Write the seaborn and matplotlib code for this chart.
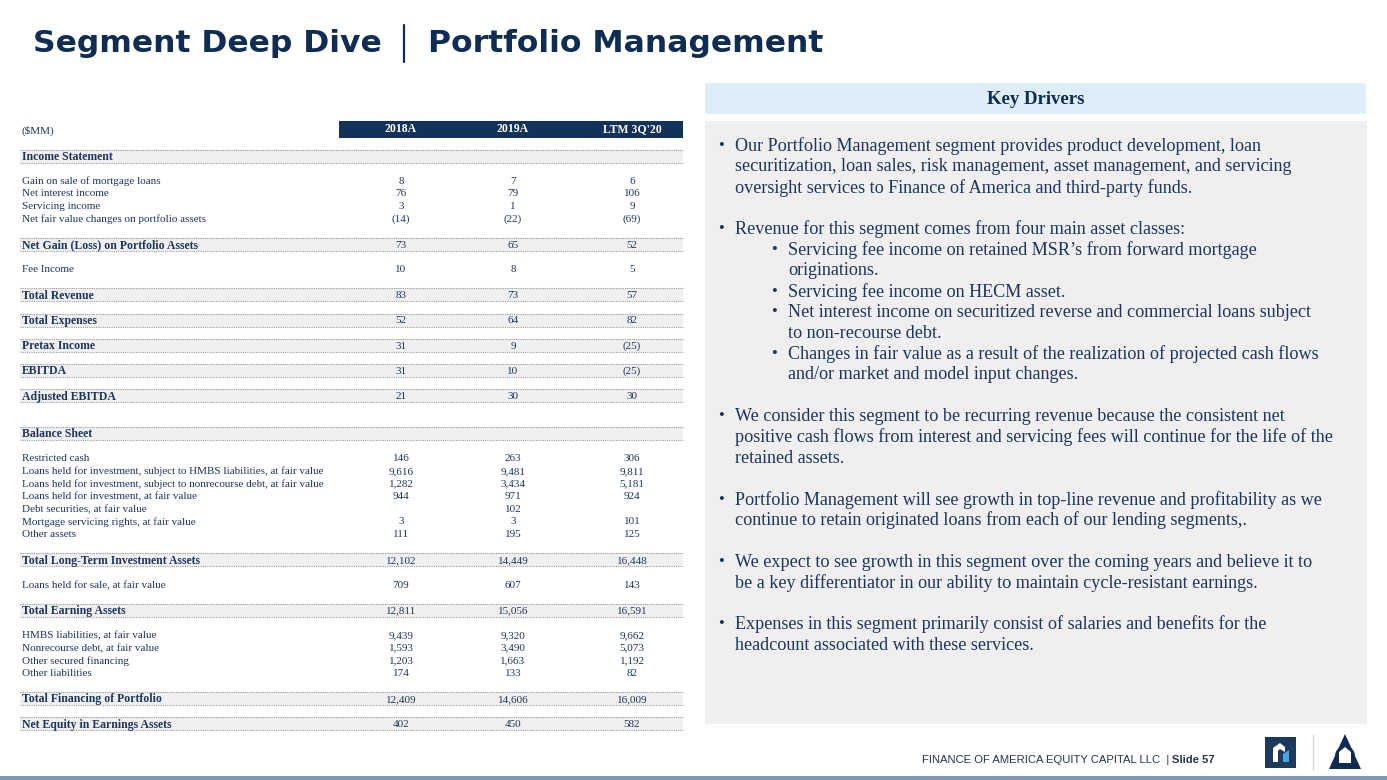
import matplotlib
matplotlib.use("Agg")
import matplotlib.pyplot as plt
from matplotlib.patches import Rectangle, Polygon, Circle
import seaborn as sns

sns.set_theme(style="white")
plt.rcParams["font.family"] = ["Liberation Serif", "DejaVu Serif"]

NAVY = "#0f2d52"
TEXT = "#1c3560"

# ---- table data ($MM) ----
row_labels = [
    "Income Statement",
    "Gain on sale of mortgage loans",
    "Net interest income",
    "Servicing income",
    "Net fair value changes on portfolio assets",
    "Net Gain (Loss) on Portfolio Assets",
    "Fee Income",
    "Total Revenue",
    "Total Expenses",
    "Pretax Income",
    "EBITDA",
    "Adjusted EBITDA",
    "Balance Sheet",
    "Restricted cash",
    "Loans held for investment, subject to HMBS liabilities, at fair value",
    "Loans held for investment, subject to nonrecourse debt, at fair value",
    "Loans held for investment, at fair value",
    "Debt securities, at fair value",
    "Mortgage servicing rights, at fair value",
    "Other assets",
    "Total Long-Term Investment Assets",
    "Loans held for sale, at fair value",
    "Total Earning Assets",
    "HMBS liabilities, at fair value",
    "Nonrecourse debt, at fair value",
    "Other secured financing",
    "Other liabilities",
    "Total Financing of Portfolio",
    "Net Equity in Earnings Assets",
]
row_kind = ["head", "item", "item", "item", "item", "total", "item", "total", "total",
            "total", "total", "total", "head", "item", "item", "item", "item", "item",
            "item", "item", "total", "item", "total", "item", "item", "item", "item",
            "total", "total"]
periods = ["2018A", "2019A", "LTM 3Q'20"]
v2018 = [None, 8, 76, 3, -14, 73, 10, 83, 52, 31, 31, 21, None, 146, 9616, 1282, 944,
         None, 3, 111, 12102, 709, 12811, 9439, 1593, 1203, 174, 12409, 402]
v2019 = [None, 7, 79, 1, -22, 65, 8, 73, 64, 9, 10, 30, None, 263, 9481, 3434, 971,
         102, 3, 195, 14449, 607, 15056, 9320, 3490, 1663, 133, 14606, 450]
vltm = [None, 6, 106, 9, -69, 52, 5, 57, 82, -25, -25, 30, None, 306, 9811, 5181, 924,
        None, 101, 125, 16448, 143, 16591, 9662, 5073, 1192, 82, 16009, 582]

# ---- key drivers text (pre-wrapped lines, level 1 = bullet, 2 = sub-bullet) ----
bullets = [
    (1, ["Our Portfolio Management segment provides product development, loan",
         "securitization, loan sales, risk management, asset management, and servicing",
         "oversight services to Finance of America and third-party funds."]),
    (1, ["Revenue for this segment comes from four main asset classes:"]),
    (2, ["Servicing fee income on retained MSR\u2019s from forward mortgage",
         "originations."]),
    (2, ["Servicing fee income on HECM asset."]),
    (2, ["Net interest income on securitized reverse and commercial loans subject",
         "to non-recourse debt."]),
    (2, ["Changes in fair value as a result of the realization of projected cash flows",
         "and/or market and model input changes."]),
    (1, ["We consider this segment to be recurring revenue because the consistent net",
         "positive cash flows from interest and servicing fees will continue for the life of the",
         "retained assets."]),
    (1, ["Portfolio Management will see growth in top-line revenue and profitability as we",
         "continue to retain originated loans from each of our lending segments,."]),
    (1, ["We expect to see growth in this segment over the coming years and believe it to",
         "be a key differentiator in our ability to maintain cycle-resistant earnings."]),
    (1, ["Expenses in this segment primarily consist of salaries and benefits for the",
         "headcount associated with these services."]),
]


def fmt(v):
    if v is None:
        return ""
    if v < 0:
        return f"({abs(v):,})"
    return f"{v:,}"


fig = plt.figure(figsize=(13.87, 7.80), dpi=100)
ax = fig.add_axes([0, 0, 1, 1])
ax.set_xlim(0, 1387)
ax.set_ylim(780, 0)
ax.axis("off")

# ---- title ----
ax.text(33, 43, "Segment Deep Dive", fontsize=22.6, fontweight="bold", color=NAVY,
        family="DejaVu Sans", va="center", ha="left")
ax.plot([404, 404], [25, 62], color=NAVY, lw=1.6)
ax.text(428, 43, "Portfolio Management", fontsize=22.6, fontweight="bold", color=NAVY,
        family="DejaVu Sans", va="center", ha="left")

# ---- table ----
x_left, x_right = 20, 683
col_x = [401, 513, 632]
ax.add_patch(Rectangle((339, 121), 344, 17, color="#12325a", lw=0))
ax.text(22, 131, "($MM)", fontsize=8, color=TEXT, va="center")
for cx, p in zip(col_x, periods):
    ax.text(cx, 129.5, p, fontsize=8.5, fontweight="bold", color="white",
            ha="center", va="center")

unit = 12.62
y = 156
prev = None
for i, (lab, kind) in enumerate(zip(row_labels, row_kind)):
    if prev is not None:
        if kind == "head":
            y += 3 * unit
        elif kind == "item" and prev == "item":
            y += unit
        else:
            y += 2 * unit
    prev = kind
    bold = kind in ("head", "total")
    if bold:
        ax.add_patch(Rectangle((x_left, y - 6.5), x_right - x_left, 13,
                               color="#f0f0f0", lw=0, zorder=0))
        for yy in (y - 6.5, y + 6.5):
            ax.plot([x_left, x_right], [yy, yy], color="#9a9a9a", lw=0.8,
                    ls=(0, (1, 1)), zorder=1)
    ty = y + 0.8 if bold else y
    ax.text(22, ty, lab, fontsize=8.5 if bold else 8, color=TEXT, va="center",
            fontweight="bold" if bold else "normal")
    for cx, vals in zip(col_x, (v2018, v2019, vltm)):
        ax.text(cx, ty, fmt(vals[i]), fontsize=8, color=TEXT, ha="center", va="center")

# ---- key drivers panel ----
ax.add_patch(Rectangle((705, 83), 661, 31, color="#ddeef8", lw=0))
ax.text(1036, 99, "Key Drivers", fontsize=13.5, fontweight="bold", color=NAVY,
        ha="center", va="center")
ax.add_patch(Rectangle((705, 121), 662, 603, color="#efefef", lw=0))

line_h = 20.8
ly = 146
first = True
for level, lines in bullets:
    if level == 1 and not first:
        ly += line_h
    first = False
    bx, tx = (718, 735) if level == 1 else (771, 788)
    ax.text(bx, ly, "\u2022", fontsize=12, color=TEXT, ha="left", va="center")
    for ln in lines:
        ax.text(tx, ly, ln, fontsize=13.1, color=TEXT, ha="left", va="center")
        ly += line_h

# ---- footer ----
ax.text(1215, 760, "Slide 57", fontsize=8.1, fontweight="bold", color="#24344f",
        family="Liberation Sans", ha="right", va="center")
ax.text(1169, 760, "FINANCE OF AMERICA EQUITY CAPITAL LLC  |", fontsize=8.1,
        color="#24344f", family="Liberation Sans", ha="right", va="center")
ax.add_patch(Rectangle((1265, 737), 31, 31, color="#1b3a5e", lw=0))
ax.add_patch(Polygon([(1273, 762), (1273, 748), (1280, 743), (1285, 747), (1285, 752),
                      (1280, 749), (1278, 751), (1278, 762)], color="white", lw=0))
ax.add_patch(Polygon([(1283, 762), (1283, 754), (1289, 750), (1289, 762)],
                     color="#4aa3df", lw=0))
ax.plot([1313, 1313], [735, 770], color="#d3d8de", lw=1)
ax.add_patch(Polygon([(1345, 734), (1329, 769), (1361, 769)], color="#0f2d52", lw=0))
ax.add_patch(Circle((1345, 756), 10, color="#0f2d52", lw=0))
ax.add_patch(Polygon([(1339, 763), (1339, 752), (1345, 747), (1351, 752), (1351, 763)],
                     color="white", lw=0))
ax.add_patch(Rectangle((0, 776), 1387, 4, color="#8497b0", lw=0))

fig.savefig("out.png", dpi=100)
